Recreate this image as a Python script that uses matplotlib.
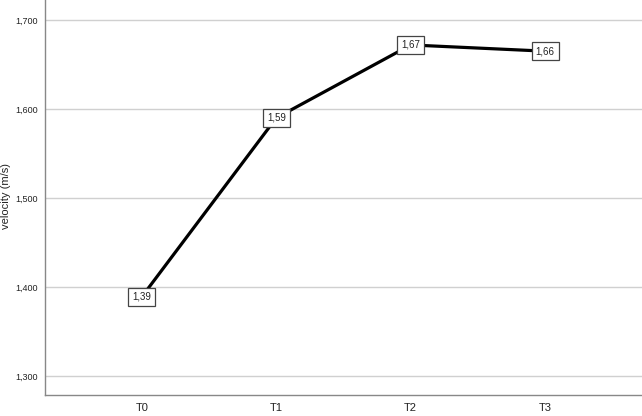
import matplotlib.pyplot as plt
import numpy as np

plt.rcParams['font.family'] = ['Liberation Sans', 'DejaVu Sans']

# time points and mean velocity
times = ['T0', 'T1', 'T2', 'T3']
velocity = [1.389, 1.590, 1.672, 1.665]
labels = ['1,39', '1,59', '1,67', '1,66']
yticks = [1.3, 1.4, 1.5, 1.6, 1.7]


def fmt(v):
    return f'{v:.3f}'.replace('.', ',')


def main():
    fig = plt.figure(figsize=(6.42, 4.16), dpi=100)
    ax = fig.add_axes([45 / 642, 1 - 395 / 416, 597 / 642, 395 / 416])

    x = np.arange(len(times))
    ax.plot(x, velocity, color='black', linewidth=2.3, zorder=3)

    for xi, v, lab in zip(x, velocity, labels):
        ax.text(xi, v, lab, ha='center', va='center', fontsize=7, zorder=4,
                color='#222222',
                bbox=dict(boxstyle='square,pad=0.4', facecolor='white',
                          edgecolor='#444444', linewidth=0.9))

    ax.set_xlim(-0.72, 3.72)
    ax.set_ylim(1.2787, 1.7225)
    ax.set_xticks(x)
    ax.set_xticklabels(times, fontsize=8, color='#222222')
    ax.set_yticks(yticks)
    ax.set_yticklabels([fmt(t) for t in yticks], fontsize=6.5, color='#222222')
    ax.tick_params(axis='y', length=0, pad=5)
    ax.tick_params(axis='x', length=0, pad=6)
    ax.yaxis.grid(True, color='#d0d0d0', linewidth=1.0)
    ax.set_axisbelow(True)

    for s in ['top', 'right']:
        ax.spines[s].set_visible(False)
    for s in ['left', 'bottom']:
        ax.spines[s].set_color('#888888')
        ax.spines[s].set_linewidth(1.0)

    # y label placed by hand so it sits against the left edge
    fig.text(6 / 642, 1 - 196 / 416, 'velocity (m/s)', rotation=90,
             ha='center', va='center', fontsize=8, color='#222222')

    fig.savefig('out.png', dpi=100)
    plt.close()


if __name__ == '__main__':
    main()
